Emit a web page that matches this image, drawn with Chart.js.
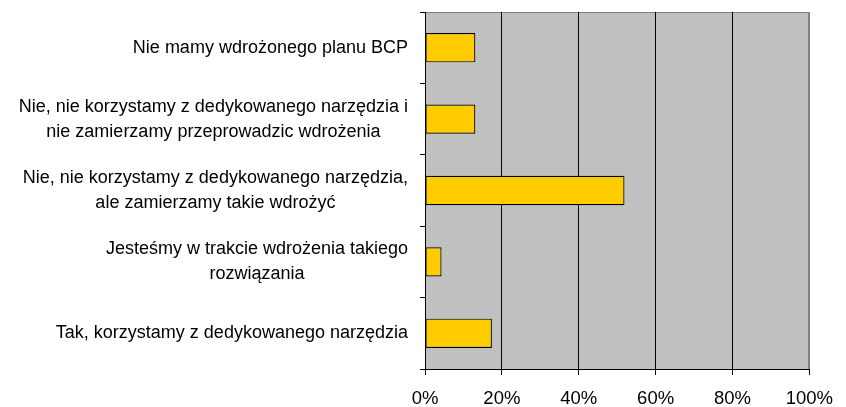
<!DOCTYPE html>
<html>
<head>
<meta charset="utf-8">
<script src="https://cdn.jsdelivr.net/npm/chart.js@4"></script>
<style>
  html, body { margin: 0; padding: 0; background: #fff; }
  #wrap { width: 846px; height: 407px; }
</style>
</head>
<body>
<div id="wrap"><canvas id="myChart"></canvas></div>
<script>
const categories = [
  ['Nie mamy wdrożonego planu BCP'],
  ['Nie, nie korzystamy z dedykowanego narzędzia i', 'nie zamierzamy przeprowadzic wdrożenia'],
  ['Nie, nie korzystamy z dedykowanego narzędzia,', 'ale zamierzamy takie wdrożyć'],
  ['Jesteśmy w trakcie wdrożenia takiego', 'rozwiązania'],
  ['Tak, korzystamy z dedykowanego narzędzia']
];
const values = [13.1, 13.1, 51.9, 4.3, 17.4];
const xTicks = [0, 20, 40, 60, 80, 100];

const FONT = '"Liberation Sans", Arial, sans-serif';
const FONT_SIZE = 18;
const LINE_H = 25;

// grey plot area with thin edge at top and right
const plotBg = {
  id: 'plotBg',
  beforeDraw(chart) {
    const { ctx, chartArea: a } = chart;
    ctx.save();
    ctx.fillStyle = '#C0C0C0';
    ctx.fillRect(a.left, a.top, a.right - a.left, a.bottom - a.top);
    ctx.strokeStyle = '#808080';
    ctx.lineWidth = 1;
    ctx.beginPath();
    ctx.moveTo(a.left, Math.round(a.top) + 0.5);
    ctx.lineTo(Math.round(a.right) - 0.5, Math.round(a.top) + 0.5);
    ctx.lineTo(Math.round(a.right) - 0.5, a.bottom);
    ctx.stroke();
    ctx.restore();
  }
};

// category labels: block right aligned to the axis, lines centred inside it
const catLabels = {
  id: 'catLabels',
  afterDraw(chart) {
    const { ctx } = chart;
    const y = chart.scales.y;
    const right = chart.chartArea.left - 17;
    ctx.save();
    ctx.font = FONT_SIZE + 'px ' + FONT;
    ctx.fillStyle = '#000';
    ctx.textAlign = 'center';
    ctx.textBaseline = 'middle';
    categories.forEach((lines, i) => {
      const w = Math.max(...lines.map(l => ctx.measureText(l).width));
      const cx = right - w / 2;
      const cy = y.getPixelForValue(i);
      const y0 = cy - (lines.length - 1) * LINE_H / 2;
      lines.forEach((l, k) => ctx.fillText(l, cx, y0 + k * LINE_H));
    });
    ctx.restore();
  }
};

new Chart(document.getElementById('myChart'), {
  type: 'bar',
  data: {
    labels: categories.map(c => c.join(' ')),
    datasets: [{
      data: values,
      backgroundColor: '#FFCC00',
      borderColor: '#000',
      borderWidth: 1.2,
      borderSkipped: false,
      categoryPercentage: 1,
      barPercentage: 0.41
    }]
  },
  options: {
    indexAxis: 'y',
    responsive: true,
    maintainAspectRatio: false,
    animation: false,
    layout: { padding: { top: 12, right: 35, left: 0, bottom: 0 } },
    scales: {
      x: {
        min: 0,
        max: 100,
        afterFit(scale) { scale.height = 38; },
        afterBuildTicks(scale) { scale.ticks = xTicks.map(v => ({ value: v })); },
        grid: {
          color: ctx => (ctx.tick && ctx.tick.value === 100) ? '#808080' : '#000',
          tickColor: '#000',
          lineWidth: 1,
          tickLength: 6
        },
        border: { color: '#000', width: 1 },
        ticks: {
          padding: 13,
          color: '#000',
          font: { family: FONT, size: 18.5 },
          callback: v => v + '%'
        }
      },
      y: {
        offset: true,
        afterFit(scale) { scale.width = 425; },
        grid: {
          offset: true,
          drawOnChartArea: false,
          drawTicks: true,
          tickLength: 5,
          color: '#000'
        },
        border: { color: '#000', width: 1 },
        ticks: { display: false }
      }
    },
    plugins: {
      legend: { display: false },
      tooltip: { enabled: false }
    }
  },
  plugins: [plotBg, catLabels]
});
</script>
</body>
</html>
